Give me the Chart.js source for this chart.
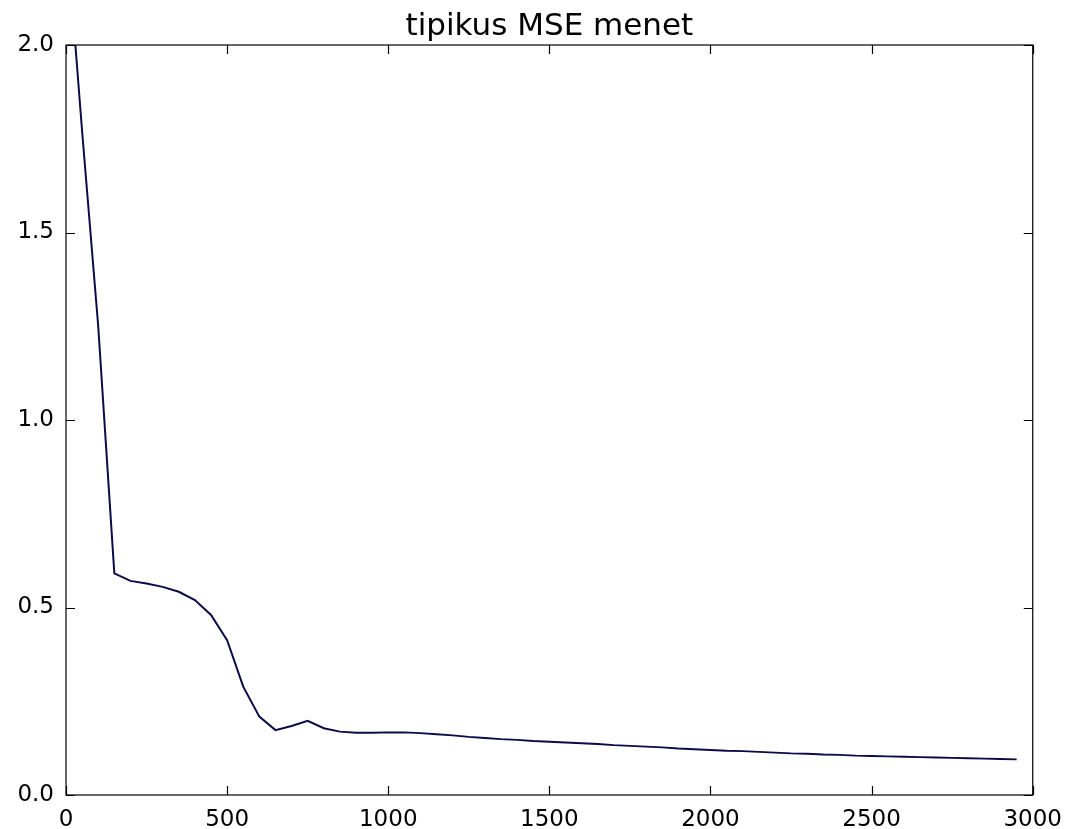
<!DOCTYPE html>
<html>
<head>
<meta charset="utf-8">
<script src="https://cdn.jsdelivr.net/npm/chart.js@4/dist/chart.umd.min.js"></script>
<style>
  html, body { margin: 0; padding: 0; background: #fff; }
  #wrap { width: 1073px; height: 829px; }
</style>
</head>
<body>
<div id="wrap"><canvas id="myChart" width="1073" height="829"></canvas></div>
<script>
const chartTitle = 'tipikus MSE menet'

// epochs (x) and MSE (y)
const epochs = [
  0, 50, 100, 150, 200, 250, 300, 350, 400, 450,
  500, 550, 600, 650, 700, 750, 800, 850, 900, 950,
  1000, 1050, 1100, 1150, 1200, 1250, 1300, 1350, 1400, 1450,
  1500, 1550, 1600, 1650, 1700, 1750, 1800, 1850, 1900, 1950,
  2000, 2050, 2100, 2150, 2200, 2250, 2300, 2350, 2400, 2450,
  2500, 2550, 2600, 2650, 2700, 2750, 2800, 2850, 2900, 2950
]
const mse = [
  2.32, 1.77, 1.25, 0.591, 0.571, 0.564, 0.555, 0.542, 0.520, 0.480,
  0.413, 0.289, 0.209, 0.173, 0.184, 0.198, 0.178, 0.169, 0.166, 0.166,
  0.167, 0.167, 0.165, 0.162, 0.159, 0.155, 0.152, 0.149, 0.147, 0.144,
  0.142, 0.140, 0.138, 0.136, 0.133, 0.131, 0.129, 0.127, 0.124, 0.122,
  0.120, 0.118, 0.117, 0.115, 0.113, 0.111, 0.110, 0.108, 0.107, 0.105,
  0.104, 0.103, 0.102, 0.101, 0.100, 0.099, 0.098, 0.097, 0.096, 0.095
]

const xTicks = [0, 500, 1000, 1500, 2000, 2500, 3000]
const yTicks = [0, 0.5, 1.0, 1.5, 2.0]

const canvas = document.getElementById('myChart')
const font = { family: 'DejaVu Sans', size: 23 }

// matplotlib classic look: box around the plot, ticks pointing inward on all sides,
// title centred over the plot area
const boxAndTicks = {
    id: 'boxAndTicks',
    afterDatasetsDraw(chart) {
        const { ctx, chartArea: a, scales } = chart
        const len = 9
        ctx.save()
        ctx.strokeStyle = '#000'
        ctx.lineWidth = 1.2
        ctx.strokeRect(a.left, a.top, a.right - a.left, a.bottom - a.top)
        ctx.beginPath()
        for (let v of xTicks) {
            const px = Math.round(scales.x.getPixelForValue(v)) + 0.5
            ctx.moveTo(px, a.bottom); ctx.lineTo(px, a.bottom - len)
            ctx.moveTo(px, a.top); ctx.lineTo(px, a.top + len)
        }
        for (let v of yTicks) {
            const py = Math.round(scales.y.getPixelForValue(v)) + 0.5
            ctx.moveTo(a.left, py); ctx.lineTo(a.left + len, py)
            ctx.moveTo(a.right, py); ctx.lineTo(a.right - len, py)
        }
        ctx.stroke()

        ctx.fillStyle = '#000'
        ctx.font = '31px "DejaVu Sans"'
        ctx.textAlign = 'center'
        ctx.textBaseline = 'alphabetic'
        ctx.fillText(chartTitle, (a.left + a.right) / 2, 35)
        ctx.restore()
    }
}

const config = {
    type: 'line',
    data: {
        datasets: [{
            data: epochs.map((e, i) => ({ x: e, y: mse[i] })),
            borderColor: '#0b0b48',
            borderWidth: 2,
            pointRadius: 0,
            tension: 0,
            fill: false
        }]
    },
    options: {
        responsive: false,
        animation: false,
        layout: { padding: { left: 0, right: 36, top: 45, bottom: 0 } },
        plugins: {
            legend: { display: false },
            tooltip: { enabled: false },
            title: { display: false }
        },
        scales: {
            x: {
                type: 'linear',
                min: 0, max: 3000,
                grid: { display: false, drawTicks: false },
                border: { display: false },
                ticks: { stepSize: 500, color: '#000', font, padding: 11, maxRotation: 0,
                         callback: v => String(v) },
                afterFit: s => { s.height = 34 }
            },
            y: {
                min: 0, max: 2,
                grid: { display: false, drawTicks: false },
                border: { display: false },
                ticks: { stepSize: 0.5, color: '#000', font, padding: 12,
                         callback: v => v.toFixed(1) },
                afterFit: s => { s.width = 66 }
            }
        }
    },
    plugins: [boxAndTicks]
}

const myChart = new Chart(canvas, config)
</script>
</body>
</html>
